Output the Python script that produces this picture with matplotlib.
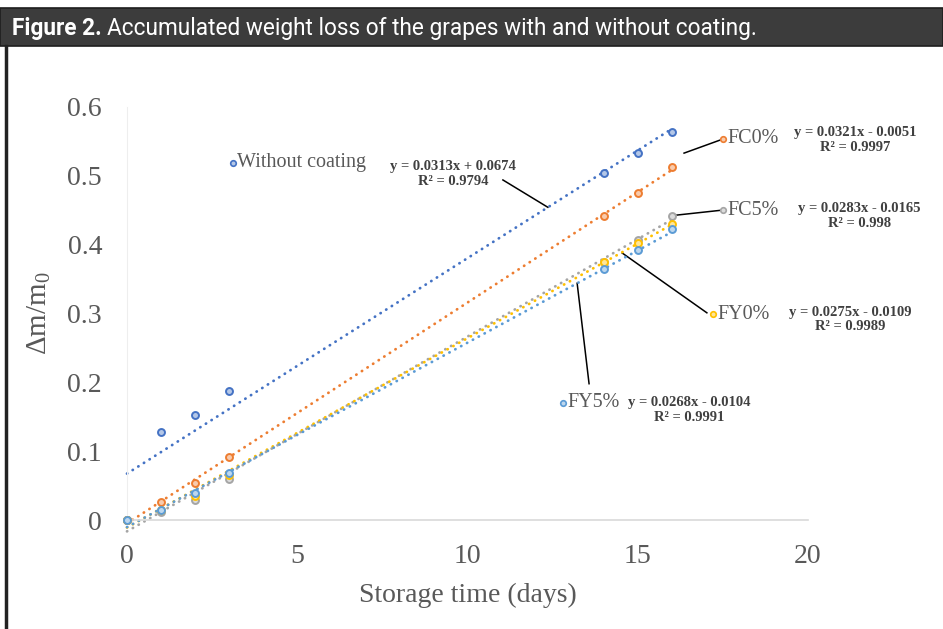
import numpy as np
import matplotlib.pyplot as plt
from matplotlib.patches import Rectangle
from matplotlib.lines import Line2D

# storage days at which the grapes were weighed
days = [0, 1, 2, 3, 14, 15, 16]

# accumulated weight loss (dm/m0)
without_coating = [0.000, 0.128, 0.153, 0.188, 0.504, 0.533, 0.564]
fc0 = [0.000, 0.026, 0.054, 0.092, 0.442, 0.475, 0.513]
fc5 = [0.000, 0.012, 0.029, 0.060, 0.375, 0.407, 0.442]
fy0 = [0.000, 0.015, 0.035, 0.066, 0.375, 0.402, 0.430]
fy5 = [0.000, 0.015, 0.039, 0.068, 0.365, 0.392, 0.423]

names = ["Without coating", "FC0%", "FC5%", "FY0%", "FY5%"]
colors = ["#4472C4", "#ED7D31", "#A5A5A5", "#FFC000", "#5B9BD5"]
faces = ["#B4C7E7", "#F8CBAD", "#DBDBDB", "#FFE699", "#BDD7EE"]

# linear trend lines given in the chart
slopes = [0.0313, 0.0321, 0.0283, 0.0275, 0.0268]
intercepts = [0.0674, -0.0051, -0.0165, -0.0109, -0.0104]
r2 = ["0.9794", "0.9997", "0.998", "0.9989", "0.9991"]

SERIF = "Liberation Serif"
GREY = "#595959"
plt.rcParams["mathtext.default"] = "regular"

fig = plt.figure(figsize=(9.43, 6.29), dpi=100)
fig.patch.set_facecolor("white")

# header bar and left frame line
fig.patches.append(Rectangle((0, 1 - 46 / 629), 1, 38 / 629, transform=fig.transFigure,
                             facecolor="#3c3c3c", edgecolor="#1e1e1e", lw=1.2))
fig.lines.append(Line2D([6 / 943, 6 / 943], [0, 1 - 46 / 629], transform=fig.transFigure,
                        color="#222222", lw=2.5))

hfont = ["Roboto", "DejaVu Sans"]
t1 = fig.text(12 / 943, 1 - 29 / 629, "Figure 2.", color="white", fontsize=16.3,
              fontweight="bold", family=hfont, va="center", ha="left")
fig.canvas.draw()
bb = t1.get_window_extent()
fig.text((bb.x1 + 5) / 943, 1 - 29 / 629,
         "Accumulated weight loss of the grapes with and without coating.",
         color="white", fontsize=16.3, family=hfont, va="center", ha="left")

ax = fig.add_axes([127 / 943, 109 / 629, 681 / 943, 413 / 629])
ax.set_xlim(0, 20)
ax.set_ylim(0, 0.6)

series = [without_coating, fc0, fc5, fy0, fy5]
xfit = np.array([0, 16])
for vals, c, fc, m, b in zip(series, colors, faces, slopes, intercepts):
    ax.plot(xfit, m * xfit + b, color=c, lw=2.0, linestyle=(0, (0.1, 2.3)),
            dash_capstyle="round", clip_on=False, zorder=2)
    ax.plot(days, vals, "o", ms=5, mfc=fc, mec=c, mew=1.4, clip_on=False, zorder=3)

for s in ["top", "right"]:
    ax.spines[s].set_visible(False)
ax.spines["left"].set_color("#eeeeee")
ax.spines["bottom"].set_color("#d9d9d9")
ax.spines["bottom"].set_linewidth(1.2)

ax.set_xticks([0, 5, 10, 15, 20])
ax.set_yticks([0, 0.1, 0.2, 0.3, 0.4, 0.5, 0.6])
ax.set_yticklabels(["0", "0.1", "0.2", "0.3", "0.4", "0.5", "0.6"])
ax.tick_params(length=0, labelsize=20, labelcolor=GREY)
ax.tick_params(axis="y", pad=18)
ax.tick_params(axis="x", pad=17)
for lab in ax.get_xticklabels() + ax.get_yticklabels():
    lab.set_family(SERIF)

ax.set_xlabel("Storage time (days)", family=SERIF, fontsize=20, color=GREY, labelpad=10)
ax.set_ylabel(r"$\mathregular{\Delta m/m_0}$", family=SERIF, fontsize=21, color=GREY, labelpad=10)

# series-name labels (with marker key), equations and leader lines
name_pos = [(3.11, 0.519), (17.50, 0.554), (17.50, 0.450), (17.21, 0.299), (12.80, 0.170)]
eq_pos = [(9.57, 0.503), (21.38, 0.552), (21.50, 0.442), (21.23, 0.291), (16.50, 0.160)]
leaders = [((11.04, 0.494), (12.36, 0.4543)),
           ((16.36, 0.533), (17.42, 0.552)),
           ((16.15, 0.443), (17.45, 0.450)),
           ((14.54, 0.388), (17.03, 0.301)),
           ((13.22, 0.344), (13.57, 0.198))]

for i, name in enumerate(names):
    nx, ny = name_pos[i]
    ax.plot([nx], [ny], "o", ms=4, mfc=faces[i], mec=colors[i], mew=1.2, clip_on=False, zorder=4)
    ax.text(nx + 0.13, ny, name, family=SERIF, fontsize=14.5, color=GREY,
            ha="left", va="center")
    m, b = slopes[i], intercepts[i]
    sign = "+" if b >= 0 else "-"
    eq = f"y = {m:.4f}x {sign} {abs(b):.4f}\nR² = {r2[i]}"
    ex, ey = eq_pos[i]
    ax.text(ex, ey, eq, family=SERIF, fontsize=10.5, fontweight="bold", color="#404040",
            ha="center", va="center", multialignment="center", linespacing=1.15)
    (x0, y0), (x1, y1) = leaders[i]
    ax.plot([x0, x1], [y0, y1], color="black", lw=1.1, clip_on=False, zorder=1)

fig.savefig("out.png", dpi=100, facecolor="white")
